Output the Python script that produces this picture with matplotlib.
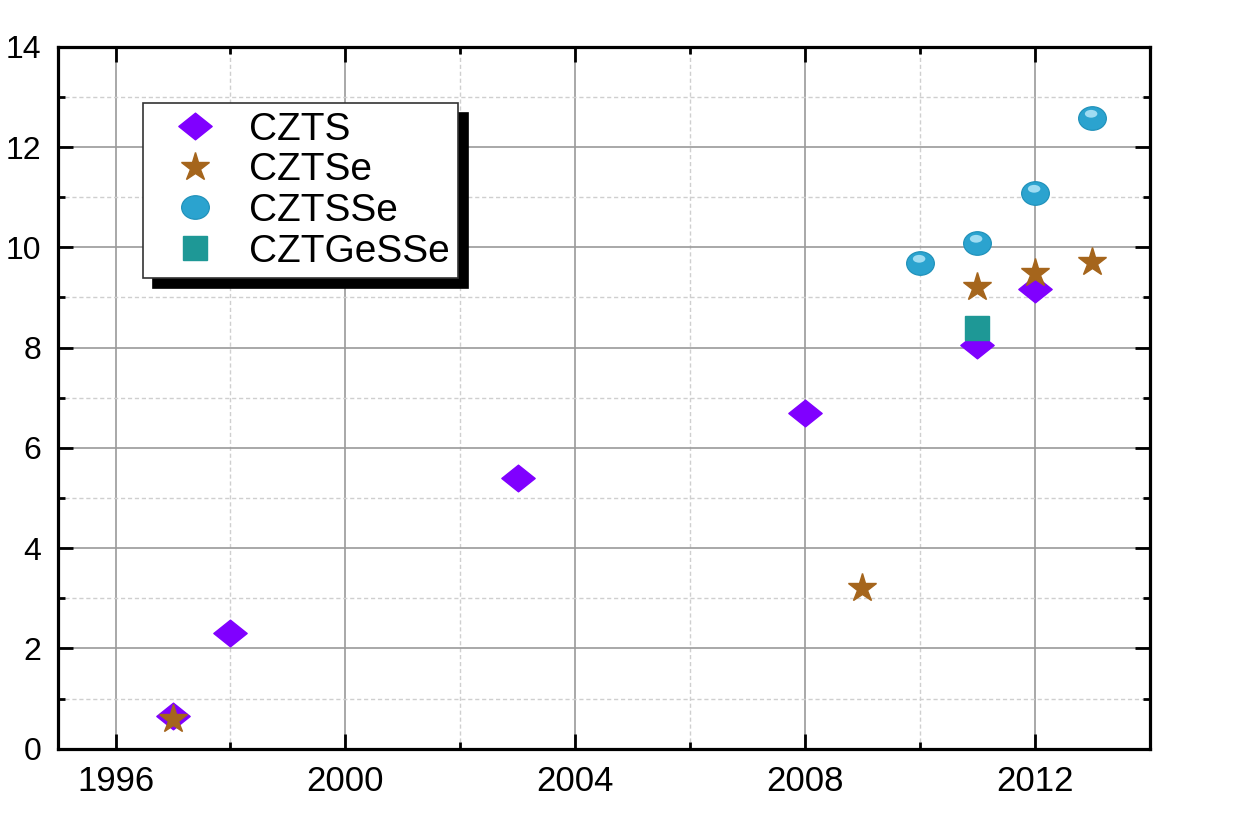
import numpy as np
import matplotlib
matplotlib.use("Agg")
import matplotlib.pyplot as plt
from matplotlib.markers import MarkerStyle
from matplotlib.transforms import Affine2D
from matplotlib.path import Path
from matplotlib.lines import Line2D

plt.rcParams['font.family'] = ['Liberation Sans', 'DejaVu Sans']

# data (year, efficiency %)
czts_year = [1997, 1998, 2003, 2008, 2011, 2012]
czts_eff = [0.65, 2.3, 5.4, 6.7, 8.06, 9.17]

cztse_year = [1997, 2009, 2011, 2012, 2013]
cztse_eff = [0.6, 3.2, 9.21, 9.49, 9.71]

cztsse_year = [2010, 2011, 2012, 2013]
cztsse_eff = [9.69, 10.09, 11.09, 12.58]

cztgesse_year = [2011]
cztgesse_eff = [8.4]

labels = ["CZTS", "CZTSe", "CZTSSe", "CZTGeSSe"]

purple = "#8000ff"
brown = "#a5651c"
cyan = "#2ba3cf"
teal = "#1e9896"

# flattened diamond
diamond = Path([(-1, 0), (0, 0.8), (1, 0), (0, -0.8), (-1, 0)],
               [Path.MOVETO, Path.LINETO, Path.LINETO, Path.LINETO, Path.CLOSEPOLY])
ball = MarkerStyle('o', transform=Affine2D().scale(1.0, 0.85))
shine = MarkerStyle('o', transform=Affine2D().scale(0.45, 0.28).translate(-0.05, 0.17))

fig = plt.figure(figsize=(12.35, 8.21), dpi=100)
ax = fig.add_axes([0.047, 0.088, 0.884, 0.855])

ax.plot(czts_year, czts_eff, linestyle='none', marker=diamond, ms=24,
        color=purple, mec=purple, zorder=3)
ax.plot(cztse_year, cztse_eff, linestyle='none', marker='*', ms=21,
        color=brown, mec=brown, zorder=4)
ax.plot(cztsse_year, cztsse_eff, linestyle='none', marker=ball, ms=20,
        color=cyan, mec="#1d8fb8", mew=0.8, zorder=4)
ax.plot(cztsse_year, cztsse_eff, linestyle='none', marker=shine, ms=20,
        color="#9fdcf2", mec='none', zorder=5)
ax.plot(cztgesse_year, cztgesse_eff, linestyle='none', marker='s', ms=17,
        color=teal, mec=teal, zorder=3)

ax.set_xlim(1995, 2014)
ax.set_ylim(0, 14)
ax.set_xticks(np.arange(1996, 2013, 4))
ax.set_xticks(np.arange(1998, 2014, 4), minor=True)
ax.set_yticks(np.arange(0, 15, 2))
ax.set_yticks(np.arange(1, 14, 2), minor=True)

ax.grid(which='major', color='#9a9a9a', linewidth=1.2, zorder=0)
ax.grid(which='minor', color='#cfcfcf', linewidth=1.0, linestyle=(0, (3, 2)), zorder=0)
ax.set_axisbelow(True)

for s in ax.spines.values():
    s.set_linewidth(2.3)
    s.set_color('black')
ax.tick_params(which='both', direction='in', top=True, right=True,
               width=2, color='black')
ax.tick_params(which='major', length=11, pad=12)
ax.tick_params(which='minor', length=5)
ax.tick_params(axis='x', which='major', labelsize=25)
ax.tick_params(axis='y', which='major', labelsize=23, pad=12)

handles = [
    Line2D([], [], linestyle='none', marker=diamond, ms=24, color=purple),
    Line2D([], [], linestyle='none', marker='*', ms=21, color=brown),
    Line2D([], [], linestyle='none', marker=ball, ms=20, color=cyan, mec="#1d8fb8", mew=0.8),
    Line2D([], [], linestyle='none', marker='s', ms=17, color=teal),
]
leg = ax.legend(handles, labels, loc='upper left', bbox_to_anchor=(0.078, 0.92),
                borderaxespad=0, fontsize=28, frameon=True, fancybox=False,
                edgecolor='#333333', framealpha=1, labelspacing=0.12,
                handletextpad=0.3, borderpad=0.22, handlelength=2.2,
                shadow={'color': 'black', 'alpha': 1, 'ox': 7, 'oy': -7})
leg.get_frame().set_linewidth(1.2)

fig.savefig("out.png", dpi=100, facecolor='white')
